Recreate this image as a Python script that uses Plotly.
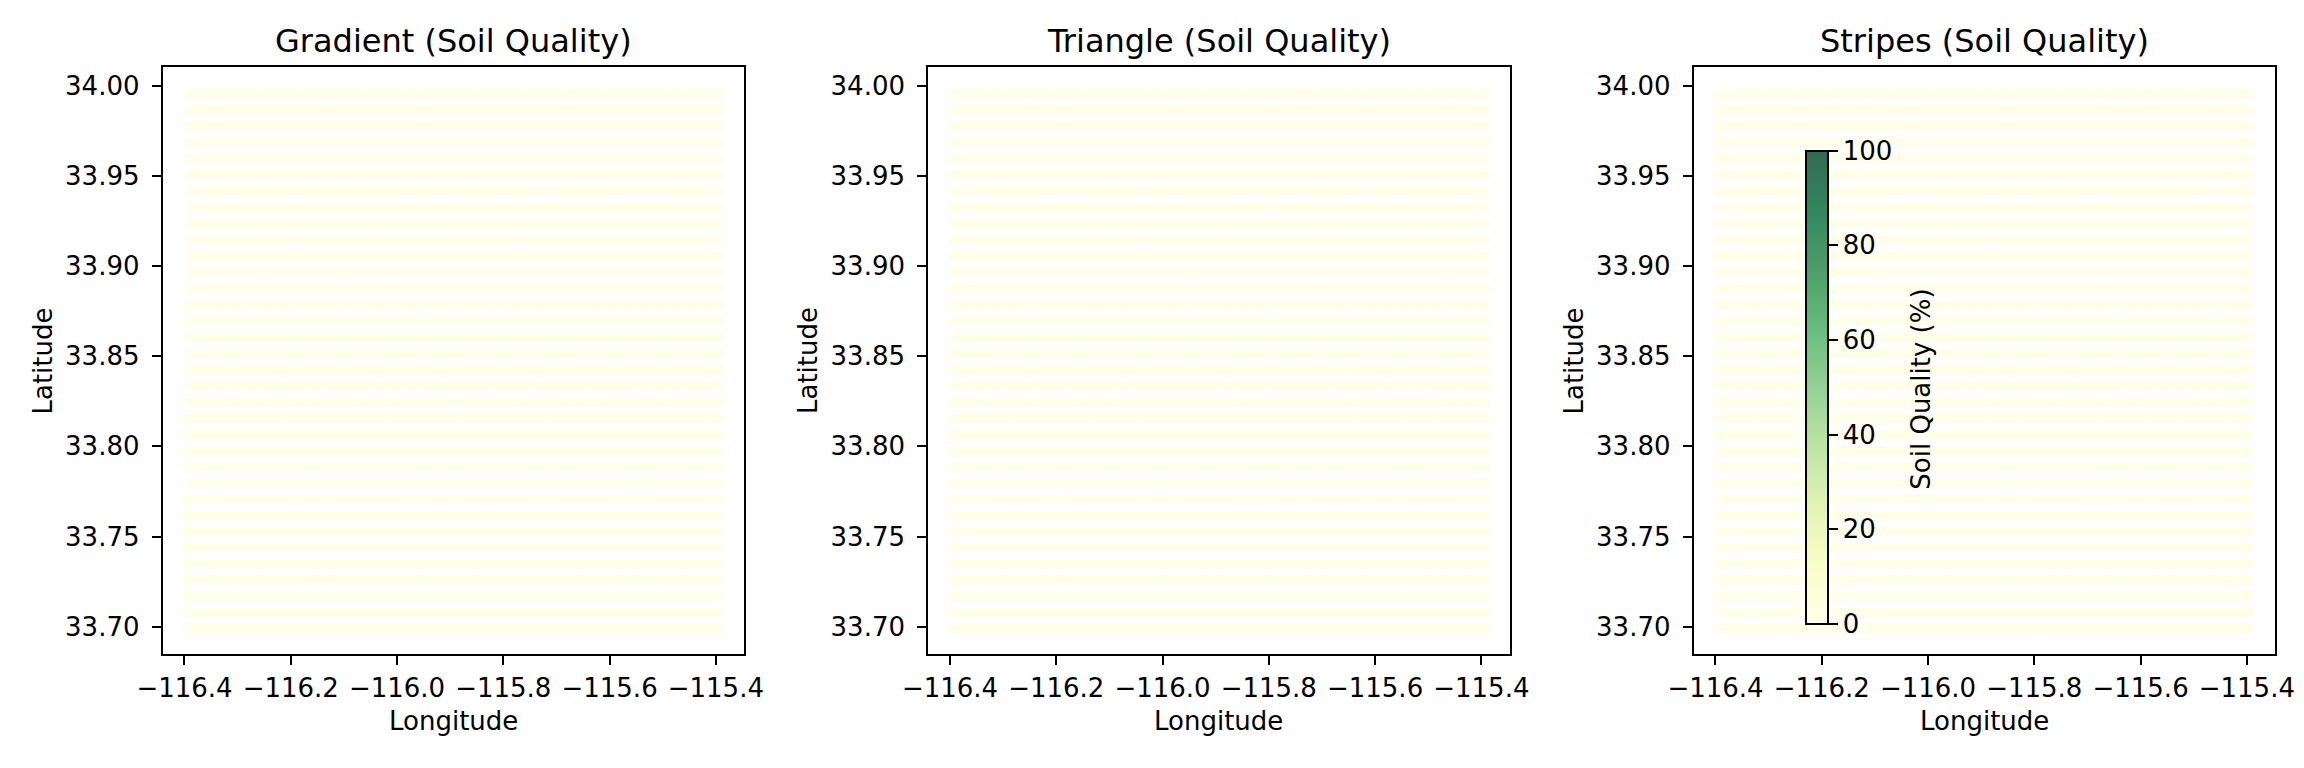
import numpy as np
import plotly.graph_objects as go

# ---- data ----
PANEL_TITLES = ["Gradient (Soil Quality)", "Triangle (Soil Quality)", "Stripes (Soil Quality)"]
N_ROWS = 34
N_COLS = 100
LAT_ROWS = np.linspace(33.6986, 33.9953, N_ROWS)      # grid latitudes
LON_COLS = np.linspace(-116.394, -115.394, N_COLS)    # grid longitudes
# soil quality (%) per grid row (all near 0)
GRADIENT_QUALITY = [0.0] * N_ROWS
TRIANGLE_QUALITY = [0.0] * N_ROWS
STRIPES_QUALITY = [0.0] * N_ROWS
PANEL_VALUES = [GRADIENT_QUALITY, TRIANGLE_QUALITY, STRIPES_QUALITY]

X_TICKS = [-116.4, -116.2, -116.0, -115.8, -115.6, -115.4]
Y_TICKS = [33.70, 33.75, 33.80, 33.85, 33.90, 33.95, 34.00]
CB_TICKS = [0, 20, 40, 60, 80, 100]

# YlGn blended with white at alpha 0.8
YLGN_ALPHA = [
    (0.0, "rgb(255,255,234)"), (0.125, "rgb(249,253,199)"), (0.25, "rgb(225,243,181)"),
    (0.375, "rgb(189,228,165)"), (0.5, "rgb(147,209,148)"), (0.625, "rgb(103,188,125)"),
    (0.75, "rgb(79,157,105)"), (0.875, "rgb(51,134,95)"), (1.0, "rgb(51,106,84)"),
]

W, H = 2304, 768
FONT = "DejaVu Sans"
panel_px = [(162.7, 744.0), (928.2, 1509.5), (1693.7, 2275.0)]
top_px, bot_px = 67.3, 654.3
X_RANGE = [-116.441, -115.347]
Y_RANGE = [33.6847, 34.0102]

fig = go.Figure()
annotations = []
for i, (title, vals) in enumerate(zip(PANEL_TITLES, PANEL_VALUES)):
    xs = np.tile(LON_COLS, N_ROWS)
    ys = np.repeat(LAT_ROWS, N_COLS)
    cs = np.repeat(np.array(vals, dtype=float), N_COLS)
    ax = "" if i == 0 else str(i + 1)
    marker = dict(size=10, color=cs, colorscale=YLGN_ALPHA, cmin=0, cmax=100,
                  line=dict(width=0), showscale=(i == 2))
    if i == 2:
        marker["colorbar"] = dict(
            x=1806 / W, xanchor="left", xpad=0, ypad=0,
            y=1 - 387.2 / H, yanchor="middle", len=473, lenmode="pixels",
            thickness=22, outlinewidth=2, outlinecolor="black",
            tickvals=CB_TICKS, ticks="outside", ticklen=9, tickwidth=2, tickcolor="black",
            tickfont=dict(family=FONT, size=26, color="black"),
        )
    fig.add_trace(go.Scatter(x=xs, y=ys, mode="markers", marker=marker,
                             xaxis="x" + ax, yaxis="y" + ax, showlegend=False,
                             hoverinfo="skip"))
    x0, x1 = panel_px[i]
    axis_common = dict(showline=True, linewidth=2, linecolor="black", mirror=True,
                       ticks="outside", ticklen=9, tickwidth=2, tickcolor="black",
                       showgrid=False, zeroline=False, automargin=False,
                       tickfont=dict(family=FONT, size=26, color="black"))
    fig.update_layout(**{
        "xaxis" + ax: dict(domain=[x0 / W, x1 / W], range=X_RANGE, tickvals=X_TICKS,
                           tickformat=".1f", anchor="y" + ax, ticklabelstandoff=0,
                           **axis_common),
        "yaxis" + ax: dict(domain=[1 - bot_px / H, 1 - top_px / H], range=Y_RANGE,
                           tickvals=Y_TICKS, tickformat=".2f", anchor="x" + ax,
                           ticklabelstandoff=7, **axis_common),
    })
    cx = (x0 + x1) / 2
    annotations.append(dict(text=title, x=cx / W, y=1 - 41 / H, xref="paper", yref="paper",
                            xanchor="center", yanchor="middle", showarrow=False,
                            font=dict(family=FONT, size=32, color="black")))
    annotations.append(dict(text="Longitude", x=cx / W, y=1 - 721 / H, xref="paper", yref="paper",
                            xanchor="center", yanchor="middle", showarrow=False,
                            font=dict(family=FONT, size=26, color="black")))
    annotations.append(dict(text="Latitude", x=(x0 - 120) / W, y=1 - 360.8 / H, xref="paper",
                            yref="paper", xanchor="center", yanchor="middle", showarrow=False,
                            textangle=-90, font=dict(family=FONT, size=26, color="black")))

annotations.append(dict(text="Soil Quality (%)", x=1920.7 / W, y=1 - 389 / H, xref="paper",
                        yref="paper", xanchor="center", yanchor="middle", showarrow=False,
                        textangle=-90, font=dict(family=FONT, size=26, color="black")))

fig.update_layout(width=W, height=H, margin=dict(l=0, r=0, t=0, b=0, autoexpand=False),
                  paper_bgcolor="white", plot_bgcolor="white",
                  font=dict(family=FONT, size=26, color="black"),
                  annotations=annotations)
fig.write_html("out.html", config={"displayModeBar": False},
               post_script="document.body.style.margin='0px';")
